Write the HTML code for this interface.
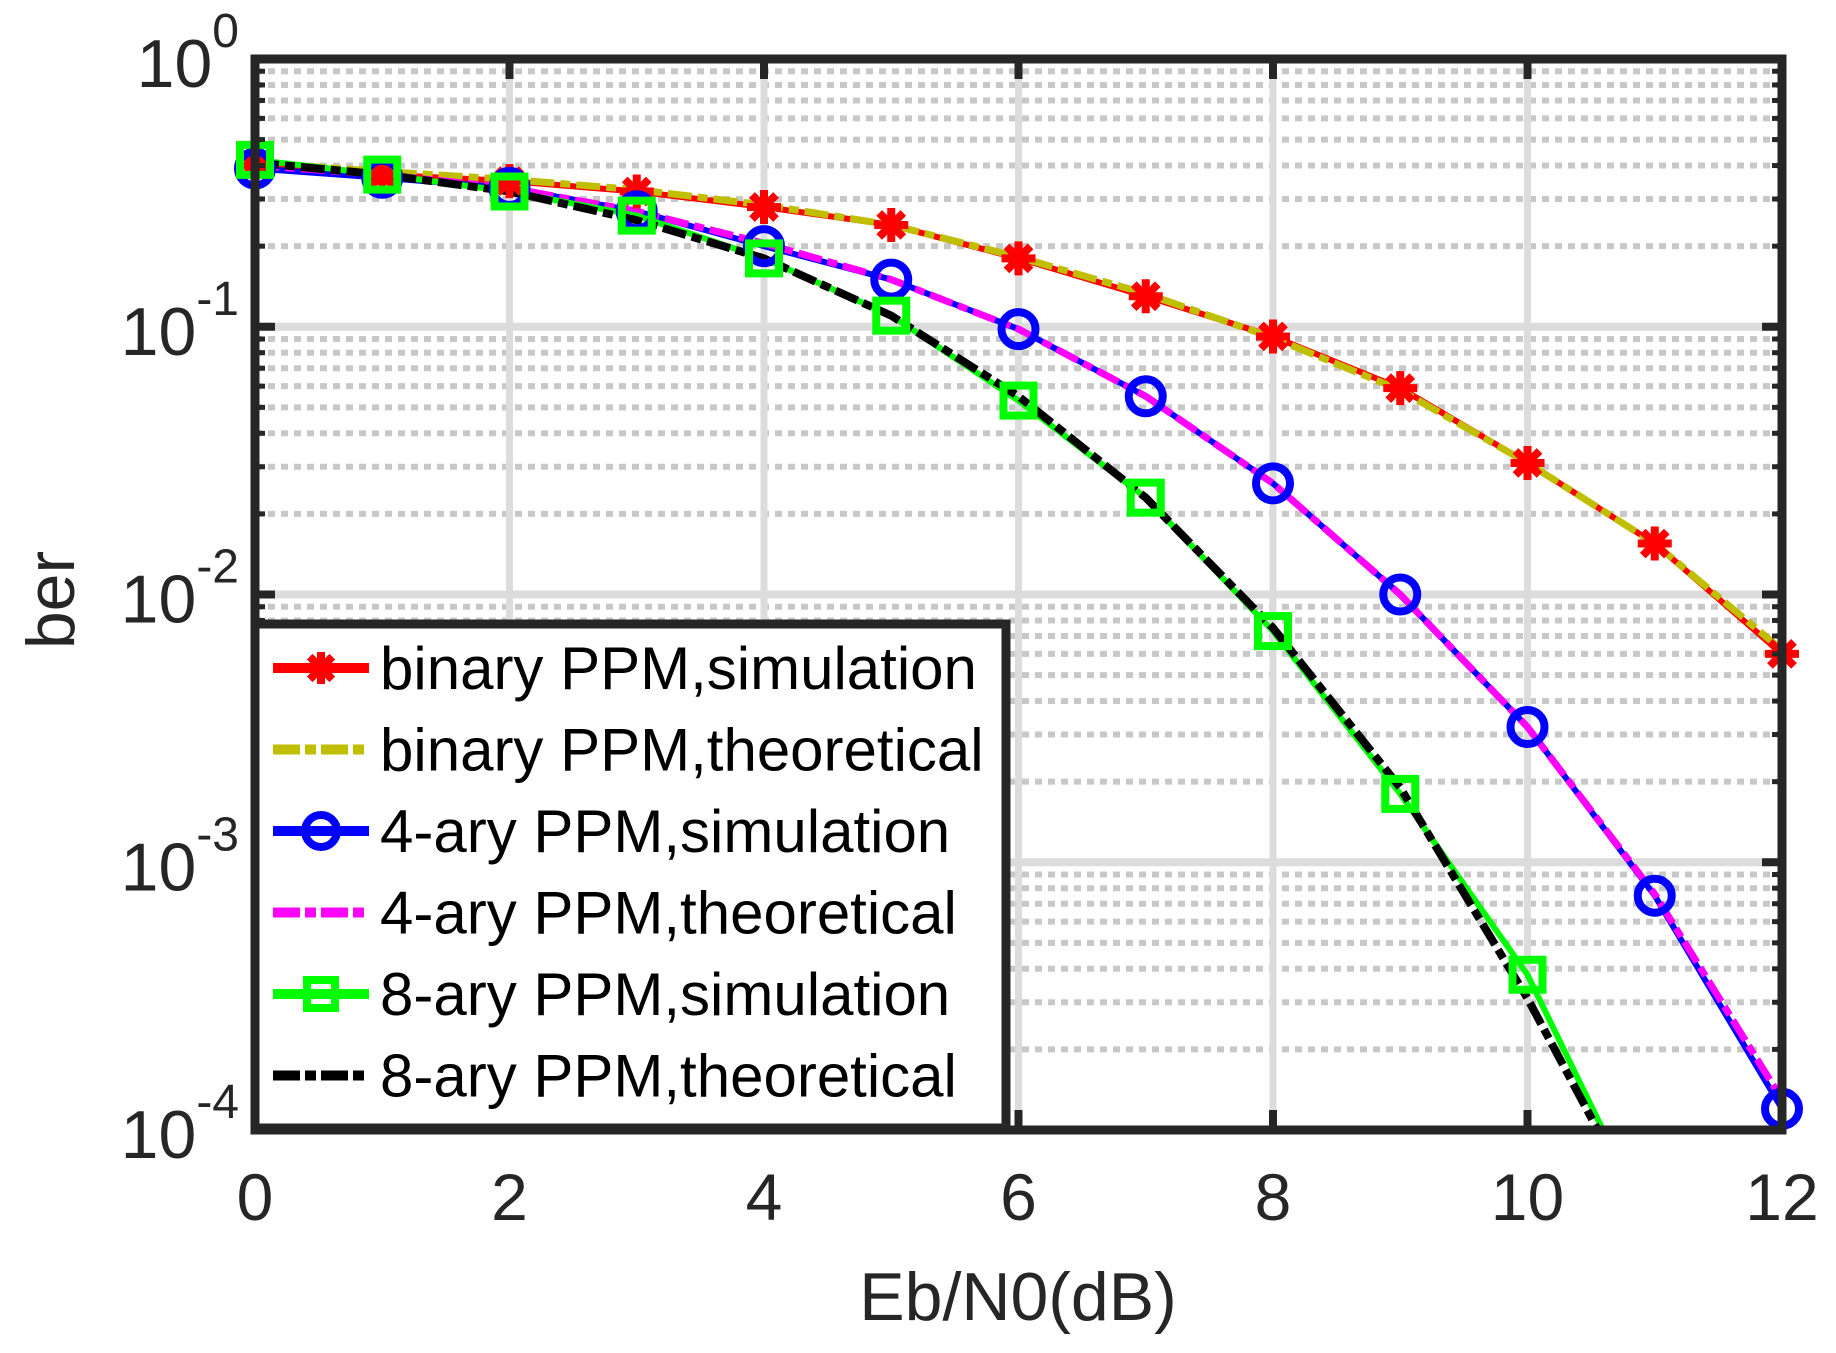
<!DOCTYPE html>
<html><head><meta charset="utf-8"><style>
html,body{margin:0;padding:0;background:#fff;overflow:hidden;width:1836px;height:1353px;}
svg{display:block;}
svg text{font-family:"Liberation Sans",sans-serif;}
</style></head><body>
<svg id="chart" width="1836" height="1353" viewBox="0 0 1836 1353" xmlns="http://www.w3.org/2000/svg">
<g id="grid"></g>
<g id="series"></g>
<g id="axes"></g>
<g id="legend"></g>
</svg>
<script>
const xValues = [0,1,2,3,4,5,6,7,8,9,10,11,12];
const binarySim = [0.40,0.37,0.35,0.32,0.28,0.24,0.18,0.13,0.092,0.059,0.031,0.0155,0.0060];
const binaryTheory = [0.41,0.38,0.355,0.325,0.285,0.24,0.182,0.133,0.091,0.058,0.031,0.0155,0.0062];
const quadSim = [0.39,0.36,0.33,0.27,0.20,0.15,0.098,0.055,0.026,0.0100,0.0032,0.00075,0.00012];
const quadTheory = [0.40,0.37,0.33,0.27,0.205,0.15,0.098,0.055,0.026,0.0100,0.0032,0.00076,0.00013];
const octSim = [0.42,0.37,0.32,0.26,0.18,0.11,0.053,0.023,0.0073,0.0018,0.00038,0.00004,0.000005];
const octTheory = [0.41,0.37,0.32,0.25,0.18,0.11,0.055,0.023,0.0075,0.0019,0.00031,0.00004,0.000005];
const xTicks = [0,2,4,6,8,10,12];
const yExps = [0,-1,-2,-3,-4];
const legendLabels = ["binary PPM,simulation","binary PPM,theoretical","4-ary PPM,simulation","4-ary PPM,theoretical","8-ary PPM,simulation","8-ary PPM,theoretical"];

const L=255,R=1782,T=59,B=1130;
const NS="http://www.w3.org/2000/svg";
function xs(v){return L+(v-0)/(12-0)*(R-L);}
function ys(v){return T+(0-Math.log10(v))/4*(B-T);}
function mk(tag,attrs,parent){const e=document.createElementNS(NS,tag);for(const k in attrs)e.setAttribute(k,attrs[k]);parent.appendChild(e);return e;}
const grid=document.getElementById('grid'),ser=document.getElementById('series'),axes=document.getElementById('axes'),leg=document.getElementById('legend');

for(let d=0;d<4;d++){for(let m=2;m<=9;m++){const y=ys(m*Math.pow(10,-d-1));
 const g=mk('line',{x1:L,x2:R,y1:y,y2:y,stroke:'#c8c8c8','stroke-width':6,'stroke-dasharray':'7 6'},grid);
 
 
 mk('line',{x1:L,x2:L+10,y1:y,y2:y,stroke:'#262626','stroke-width':5},axes);
 mk('line',{x1:R,x2:R-10,y1:y,y2:y,stroke:'#262626','stroke-width':5},axes);}}
yExps.forEach(e=>{const y=ys(Math.pow(10,e));
 const g=mk('line',{x1:L,x2:R,y1:y,y2:y,stroke:'#dcdcdc','stroke-width':8},grid);
 
 
 mk('line',{x1:L,x2:L+20,y1:y,y2:y,stroke:'#262626','stroke-width':8},axes);
 mk('line',{x1:R,x2:R-20,y1:y,y2:y,stroke:'#262626','stroke-width':8},axes);
 const t=mk('text',{x:L-16,y:y+28,'font-size':68,fill:'#262626','text-anchor':'end'},axes);
 
 
 const a=mk('tspan',{},t);a.textContent='10';
 const s=mk('tspan',{dy:-40,'font-size':48},t);s.textContent=(e===0?'0':'-'+(-e));
});
xTicks.forEach(v=>{const x=xs(v);
 const g=mk('line',{x1:x,x2:x,y1:T,y2:B,stroke:'#dcdcdc','stroke-width':7},grid);
 
 
 mk('line',{x1:x,x2:x,y1:T,y2:T+20,stroke:'#262626','stroke-width':8},axes);
 mk('line',{x1:x,x2:x,y1:B,y2:B-20,stroke:'#262626','stroke-width':8},axes);
 const t=mk('text',{x:x,y:1220,'font-size':66,fill:'#262626','text-anchor':'middle'},axes);t.textContent=v;
 
 
});
const box=mk('rect',{x:L,y:T,width:R-L,height:B-T,fill:'none',stroke:'#262626','stroke-width':9},axes);


const xl=mk('text',{x:1018,y:1320,'font-size':68,fill:'#262626','text-anchor':'middle'},axes);xl.textContent='Eb/N0(dB)';


const yl=mk('text',{x:0,y:0,'font-size':68,fill:'#262626','text-anchor':'middle',transform:'translate(74,600) rotate(-90)'},axes);yl.textContent='ber';



const defs=mk('defs',{},ser);const cp=mk('clipPath',{id:'pc'},defs);mk('rect',{x:L,y:T,width:R-L,height:B-T},cp);
const sg=mk('g',{'clip-path':'url(#pc)'},ser);
const mg=mk('g',{},ser);

function marker(type,x,y,color,parent,sz){
 let m;
 if(type==='star'){m=mk('g',{stroke:color,'stroke-width':8},parent);
  for(let a=0;a<4;a++){const an=a*Math.PI/4;mk('line',{x1:x-sz*Math.cos(an),y1:y-sz*Math.sin(an),x2:x+sz*Math.cos(an),y2:y+sz*Math.sin(an)},m);}}
 else if(type==='circle'){m=mk('circle',{cx:x,cy:y,r:sz,fill:'none',stroke:color,'stroke-width':8},parent);}
 else if(type==='square'){m=mk('rect',{x:x-sz,y:y-sz,width:2*sz,height:2*sz,fill:'none',stroke:color,'stroke-width':8},parent);}
 return m;}

const seriesDefs=[
 {d:binarySim,c:'#ff0000',dash:'',m:'star',w:6,name:'binary-sim'},
 {d:binaryTheory,c:'#bfbf00',dash:'24 6 10 6',m:null,w:7,name:'binary-theory'},
 {d:quadSim,c:'#0000ff',dash:'',m:'circle',w:6,name:'4ary-sim'},
 {d:quadTheory,c:'#ff00ff',dash:'24 6 10 6',m:null,w:7,name:'4ary-theory'},
 {d:octSim,c:'#00ff00',dash:'',m:'square',w:6,name:'8ary-sim'},
 {d:octTheory,c:'#000000',dash:'24 6 10 6',m:null,w:8,name:'8ary-theory'}];
seriesDefs.forEach(s=>{
 const pts=xValues.map((x,i)=>xs(x)+','+ys(s.d[i])).join(' ');
 const p=mk('polyline',{points:pts,fill:'none',stroke:s.c,'stroke-width':s.w,'stroke-dasharray':s.dash},sg);
 
 
 if(s.m){xValues.forEach((x,i)=>{const v=s.d[i];if(v<1e-4*0.98)return;
  const mm=marker(s.m,xs(x),ys(v),s.c,mg,s.m==='star'?17:(s.m==='circle'?17:15));
  
  });}
});

const lb=mk('rect',{x:255,y:624,width:751,height:504,fill:'#fff',stroke:'#262626','stroke-width':9},leg);


seriesDefs.forEach((s,i)=>{const y=668+i*81.5;
 const g=mk('g',{},leg);
 
 
 mk('line',{x1:273,x2:369,y1:y,y2:y,stroke:s.c,'stroke-width':10,'stroke-dasharray':s.dash?'27 5 11 5':''},g);
 if(s.m)marker(s.m,321,y,s.c,g,s.m==='star'?16:(s.m==='circle'?16:14));
 const t=mk('text',{x:380,y:y+21,'font-size':60,fill:'#000'},g);t.textContent=legendLabels[i];
});
</script>
</body></html>
